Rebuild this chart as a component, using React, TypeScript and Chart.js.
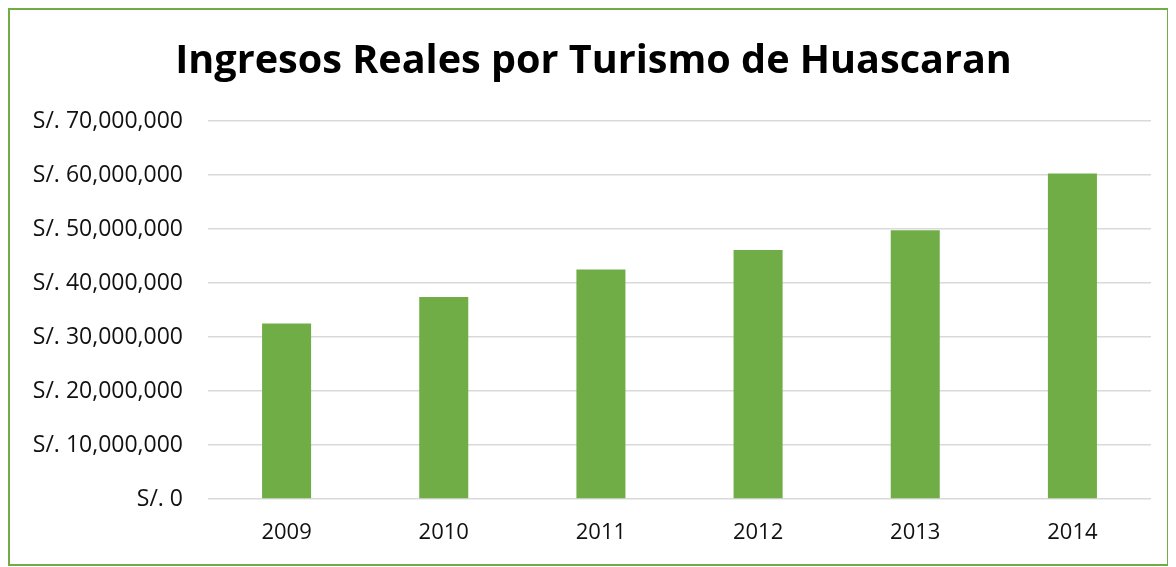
import React, { useEffect, useRef } from "react";
import { Chart, registerables } from "chart.js";

Chart.register(...registerables);

const years = ["2009", "2010", "2011", "2012", "2013", "2014"];
const ingresos = [32500000, 37400000, 42500000, 46100000, 49750000, 60300000];
const titleText = "Ingresos Reales por Turismo de Huascaran";
const yMax = 70000000;
const yStep = 10000000;

const fmt = (v: number) => "S/. " + (v === 0 ? "0" : v.toLocaleString("en-US"));

// let the y tick labels use the left layout padding (which only shifts the title)
const widenYLabelArea = {
  id: "widenYLabelArea",
  afterLayout(chart: any) {
    const y = chart.scales.y;
    if (y) y.left = 0;
  },
};

export default function App() {
  const ref = useRef<HTMLCanvasElement | null>(null);
  useEffect(() => {
    if (!ref.current) return;
    const chart = new Chart(ref.current, {
      type: "bar",
      data: {
        labels: years,
        datasets: [
          {
            data: ingresos,
            backgroundColor: "#70AD47",
            borderWidth: 0,
            categoryPercentage: 1,
            barPercentage: 0.312,
          },
        ],
      },
      plugins: [widenYLabelArea],
      options: {
        animation: false,
        responsive: false,
        maintainAspectRatio: false,
        layout: { padding: { left: 26, right: 16, top: 0, bottom: 0 } },
        plugins: {
          legend: { display: false },
          tooltip: { enabled: false },
          title: {
            display: true,
            text: titleText,
            color: "#000",
            font: { family: "'Open Sans'", size: 39.6, weight: "bold", lineHeight: 1.2 },
            padding: { top: 28, bottom: 35.5 },
          },
        },
        scales: {
          x: {
            grid: { display: false, drawTicks: false },
            border: { display: false },
            ticks: { color: "#111", padding: 21, font: { family: "'Open Sans'", size: 22 } },
            afterFit: (s: any) => { s.height = 65; },
          },
          y: {
            min: 0,
            max: yMax,
            grid: { color: "#d9d9d9", lineWidth: 1.5, drawTicks: false },
            border: { display: false },
            ticks: {
              stepSize: yStep,
              color: "#111",
              padding: 25,
              font: { family: "'Open Sans'", size: 23 },
              callback: (v: any) => fmt(Number(v)),
            },
            afterFit: (s: any) => { s.width = 172; },
          },
        },
      },
    });
    return () => chart.destroy();
  }, []);
  return (
    <div
      style={{
        width: 1161,
        height: 558,
        border: "2px solid #70AD47",
        boxSizing: "border-box",
        background: "#fff",
      }}
    >
      <canvas ref={ref} width={1157} height={554} style={{ display: "block" }} />
    </div>
  );
}
